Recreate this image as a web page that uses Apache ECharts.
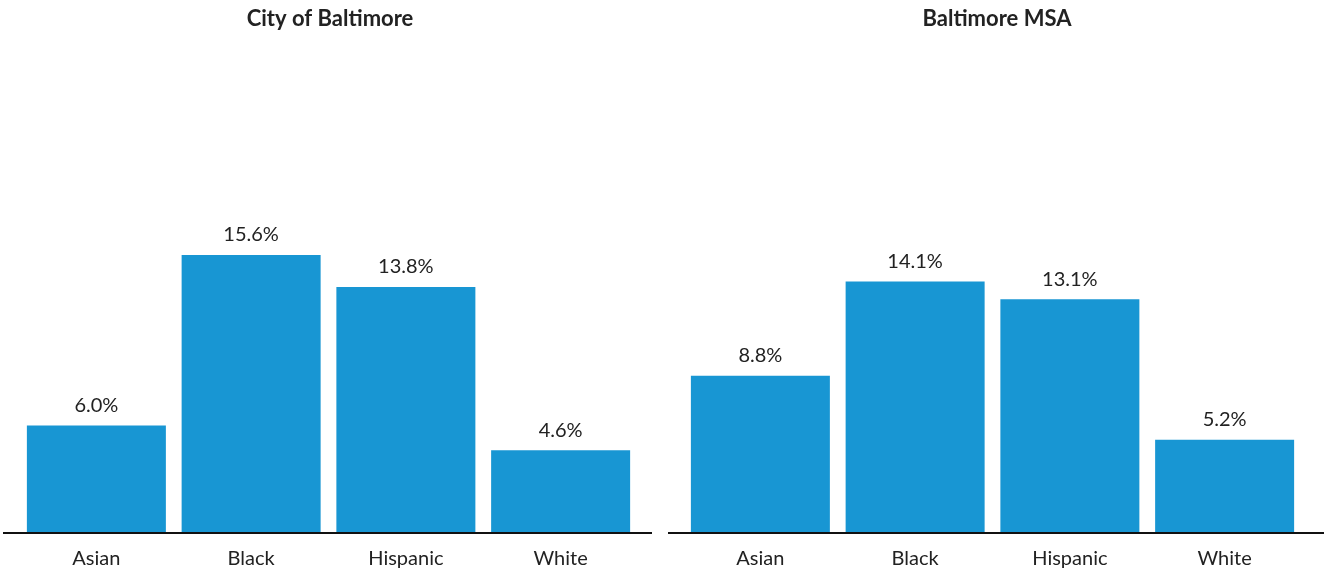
<!DOCTYPE html>
<html>
<head>
<meta charset="utf-8">
<script src="https://cdn.jsdelivr.net/npm/echarts@6/dist/echarts.min.js"></script>
<style>
  html, body { margin: 0; padding: 0; background: #fff; }
  #chart { width: 1331px; height: 570px; }
</style>
</head>
<body>
<div id="chart"></div>
<script>
// Share of each group, by area (percent)
const categories = ['Asian', 'Black', 'Hispanic', 'White'];
const cityValues = [6.0, 15.6, 13.8, 4.6];
const msaValues = [8.8, 14.1, 13.1, 5.2];
const panelTitles = ['City of Baltimore', 'Baltimore MSA'];

const FONT = 'Lato, "Open Sans", sans-serif';
const TEXT = '#222222';
const BAR = '#1896d3';

const chart = echarts.init(document.getElementById('chart'));

const grids = [
  { left: 19, width: 619, top: 88, bottom: 38 },
  { left: 683, width: 619, top: 88, bottom: 38 }
];

function xAxis(i) {
  return {
    type: 'category', gridIndex: i, data: categories,
    axisLine: { show: false }, axisTick: { show: false },
    axisLabel: { color: TEXT, fontFamily: FONT, fontSize: 20, margin: 17 }
  };
}
function yAxis(i) {
  return {
    type: 'value', gridIndex: i, min: 0, max: 25, show: false,
    splitLine: { show: false }
  };
}
function barSeries(i, values) {
  return {
    type: 'bar', xAxisIndex: i, yAxisIndex: i, data: values,
    barWidth: 139,
    itemStyle: { color: BAR },
    label: {
      show: true, position: 'top', distance: 10,
      color: TEXT, fontFamily: FONT, fontSize: 20,
      formatter: p => p.value.toFixed(1) + '%'
    }
  };
}

chart.setOption({
  animation: false,
  title: [
    { text: panelTitles[0], left: 325, top: 3, textAlign: 'center',
      textStyle: { fontFamily: FONT, fontSize: 22, fontWeight: 'bold', color: TEXT } },
    { text: panelTitles[1], left: 992, top: 3, textAlign: 'center',
      textStyle: { fontFamily: FONT, fontSize: 22, fontWeight: 'bold', color: TEXT } }
  ],
  grid: grids,
  xAxis: [xAxis(0), xAxis(1)],
  yAxis: [yAxis(0), yAxis(1)],
  series: [barSeries(0, cityValues), barSeries(1, msaValues)],
  graphic: [
    { type: 'line', shape: { x1: 3, y1: 533, x2: 652, y2: 533 },
      style: { stroke: '#111', lineWidth: 2 }, z: 10 },
    { type: 'line', shape: { x1: 668, y1: 533, x2: 1324, y2: 533 },
      style: { stroke: '#111', lineWidth: 2 }, z: 10 }
  ]
});
</script>
</body>
</html>
